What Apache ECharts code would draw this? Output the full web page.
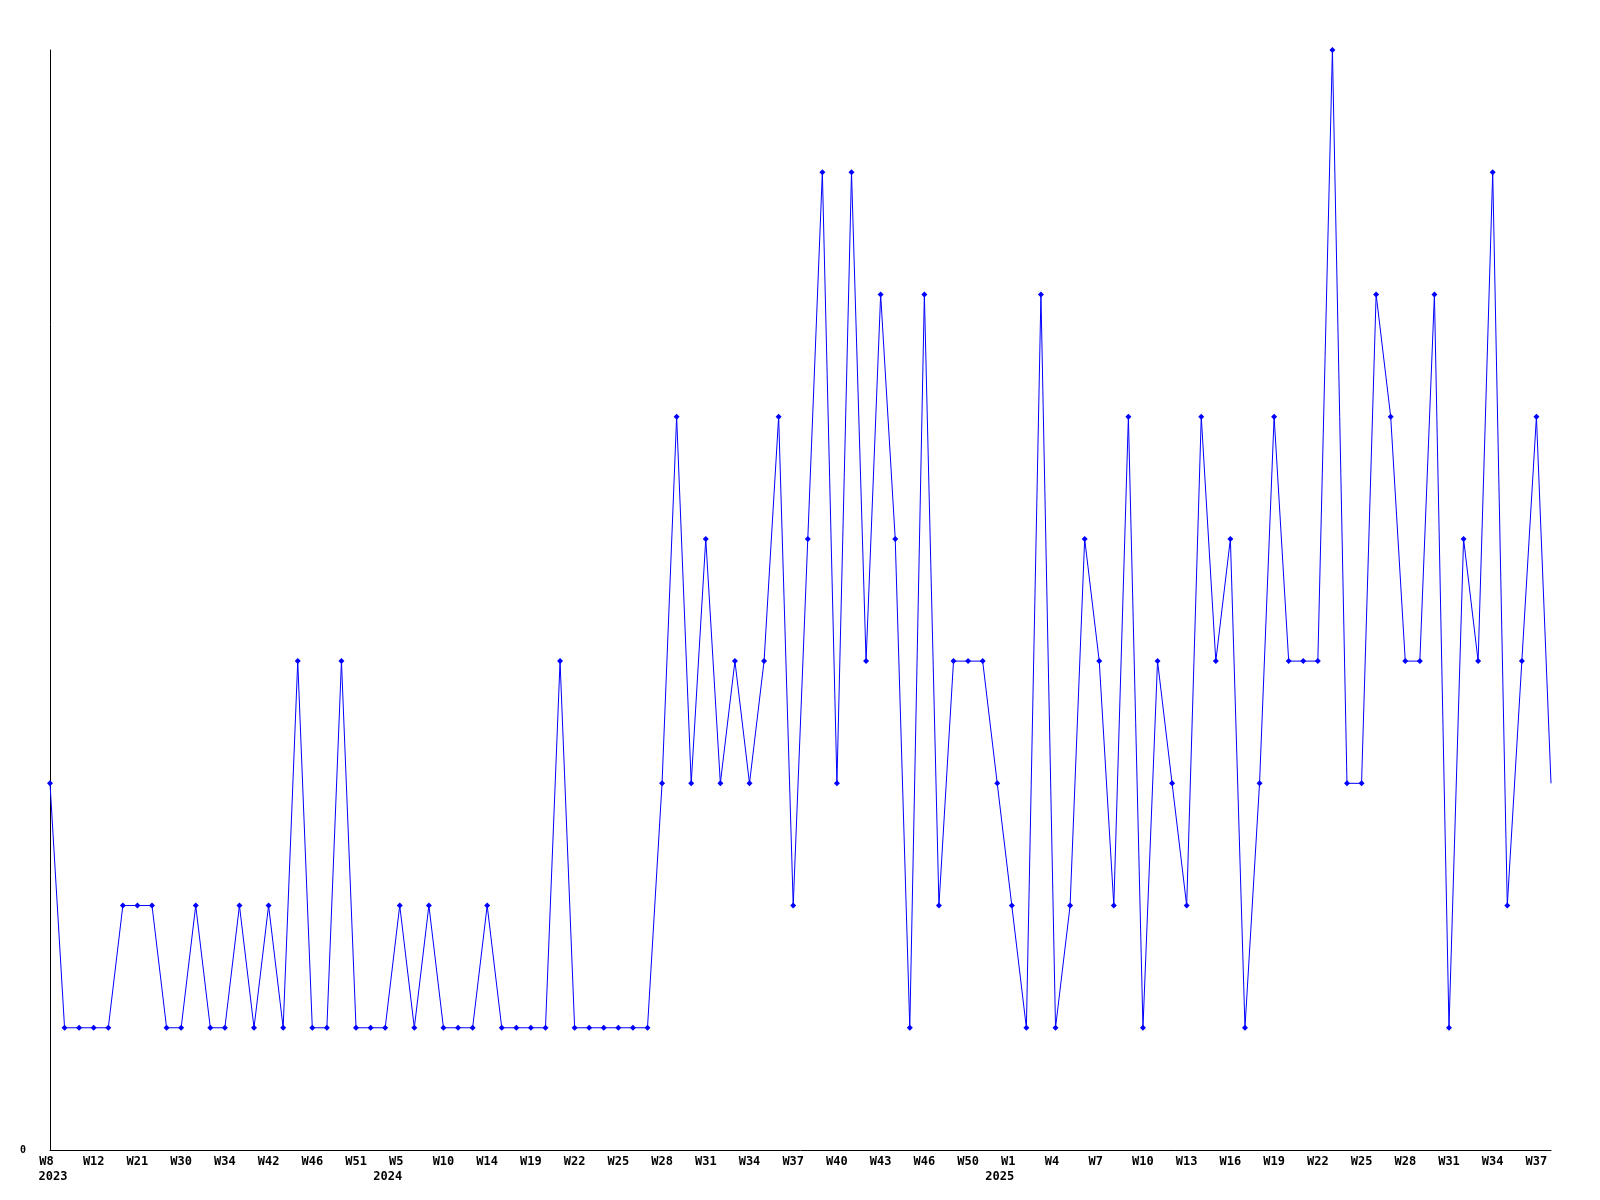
<!DOCTYPE html>
<html>
<head>
<meta charset="utf-8">
<script src="https://cdn.jsdelivr.net/npm/echarts@6/dist/echarts.min.js"></script>
<style>
html,body{margin:0;padding:0;background:#fff;}
#chart{width:1600px;height:1200px;}
</style>
</head>
<body>
<div id="chart"></div>
<script>
// ISO weeks present in the data, per year
const weeks2023 = [8,9,10,12,15,18,21,24,27,30,31,33,34,37,40,42,43,45,46,48,50,51,52];
const weeks2024 = [2,5,7,8,10,11,13,14,16,17,19,20,21,22,23,24,25,26,27,28,29,30,31,32,33,34,35,36,37,38,39,40,41,42,43,44,45,46,48,49,50,51,52];
const weeks2025 = [1,2,3,4,5,6,7,8,9,10,11,12,13,14,15,16,17,18,19,20,21,22,23,24,25,26,27,28,29,30,31,32,33,34,35,36,37,38];

// weekly counts
const values = [
  3,1,1,1,1,2,2,2,1,1, 2,1,1,2,1,2,1,4,1,1,
  4,1,1,1,2,1,2,1,1,1, 2,1,1,1,1,4,1,1,1,1,
  1,1,3,6,3,5,3,4,3,4, 6,2,5,8,3,8,4,7,5,1,
  7,2,4,4,4,3,2,1,7,1, 2,5,4,2,6,1,4,3,2,6,
  4,5,1,3,6,4,4,4,9,3, 3,7,6,4,4,7,1,5,4,8,
  2,4,6,3
];

const yearList = [2023, 2024, 2025];
const weekLists = [weeks2023, weeks2024, weeks2025];

const categories = [];
const years = [];
const weekNums = [];
weekLists.forEach((wl, k) => {
  wl.forEach(w => {
    categories.push(yearList[k] + '-W' + w);
    years.push(yearList[k]);
    weekNums.push(w);
  });
});

const FONT = 'DejaVu Sans Mono';
const CW = 7.22; // char width at 12px

const chart = echarts.init(document.getElementById('chart'), null, {renderer: 'canvas'});

const seriesData = values.map((v, i) => i === values.length - 1 ? {value: v, symbol: 'none'} : v);

chart.setOption({
  animation: false,
  backgroundColor: '#ffffff',
  grid: {left: 50, right: 49, top: 50, bottom: 50, containLabel: false},
  xAxis: [
    {
      type: 'category',
      data: categories,
      boundaryGap: false,
      position: 'bottom',
      axisLine: {show: true, lineStyle: {color: '#000', width: 1}},
      axisTick: {show: false},
      splitLine: {show: false},
      axisLabel: {
        interval: 2,
        margin: 6,
        color: '#000',
        fontFamily: FONT,
        fontWeight: 'bold',
        fontSize: 12,
        align: 'center',
        formatter: function (val, idx) {
          const t = 'W' + weekNums[idx];
          const pad = Math.max(0, 3 - t.length) * CW;
          return '{w' + (pad > 0 ? 'p' : '') + '|' + t + '}';
        },
        rich: {
          w: {fontFamily: FONT, fontWeight: 'bold', fontSize: 12, color: '#000'},
          wp: {fontFamily: FONT, fontWeight: 'bold', fontSize: 12, color: '#000', padding: [0, CW, 0, 0]}
        }
      }
    },
    {
      type: 'category',
      data: categories,
      boundaryGap: false,
      position: 'bottom',
      axisLine: {show: false},
      axisTick: {show: false},
      splitLine: {show: false},
      axisLabel: {
        margin: 21,
        color: '#000',
        fontFamily: FONT,
        fontWeight: 'bold',
        fontSize: 12,
        align: 'center',
        interval: function (idx) {
          return idx % 3 === 0 && (idx === 0 || years[idx] !== years[idx - 3]);
        },
        formatter: function (val, idx) {
          return (idx === 0 ? '{y0|' : '{y1|') + years[idx] + '}';
        },
        rich: {
          y0: {fontFamily: FONT, fontWeight: 'bold', fontSize: 12, color: '#000', padding: [0, 0, 0, 6]},
          y1: {fontFamily: FONT, fontWeight: 'bold', fontSize: 12, color: '#000', padding: [0, 24, 0, 0]}
        }
      }
    }
  ],
  yAxis: {
    type: 'value',
    min: 0,
    max: 9,
    interval: 9,
    axisLine: {show: true, lineStyle: {color: '#000', width: 1}},
    axisTick: {show: false},
    splitLine: {show: false},
    axisLabel: {
      margin: 24,
      color: '#000',
      fontFamily: FONT,
      fontWeight: 'bold',
      fontSize: 10,
      formatter: function (v) { return v === 0 ? '0' : ''; }
    }
  },
  series: [
    {
      type: 'line',
      xAxisIndex: 0,
      data: seriesData,
      symbol: 'diamond',
      symbolSize: 6,
      showSymbol: true,
      showAllSymbol: true,
      lineStyle: {color: '#0000ff', width: 1},
      itemStyle: {color: '#0000ff'},
      emphasis: {disabled: true}
    }
  ]
});
</script>
</body>
</html>
